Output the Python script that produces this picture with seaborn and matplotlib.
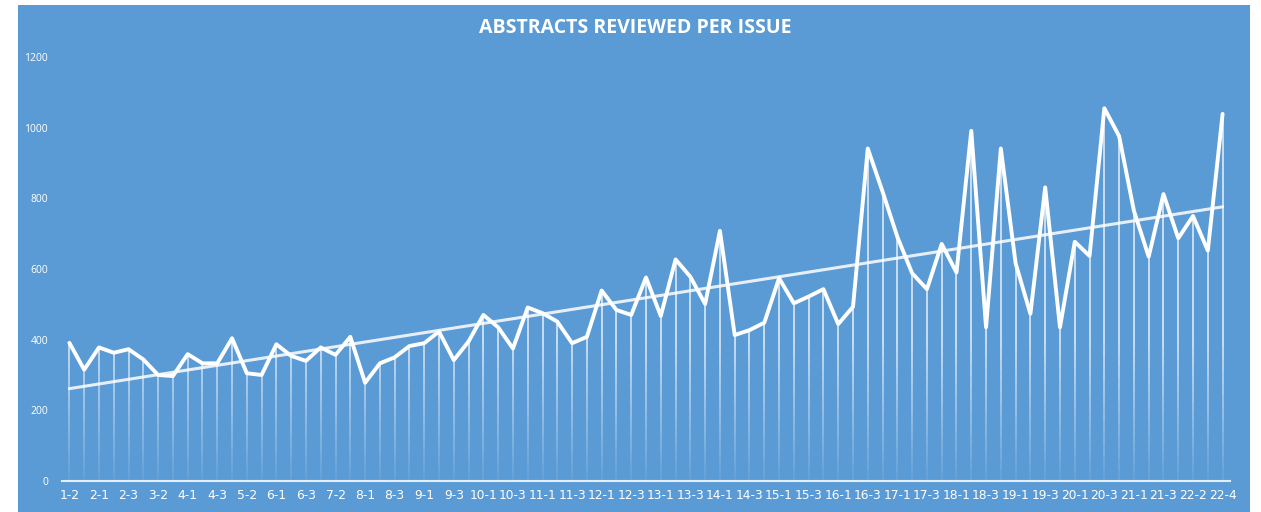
import numpy as np
import pandas as pd
import matplotlib
matplotlib.use("Agg")
import matplotlib.pyplot as plt
import seaborn as sns
from matplotlib.collections import LineCollection
from matplotlib.patches import Rectangle

# ---- data ----
issues = ["1-2", "1-3",
          "2-1", "2-2", "2-3",
          "3-1", "3-2", "3-3",
          "4-1", "4-2", "4-3",
          "5-1", "5-2", "5-3",
          "6-1", "6-2", "6-3",
          "7-1", "7-2", "7-3",
          "8-1", "8-2", "8-3", "8-4",
          "9-1", "9-2", "9-3", "9-4",
          "10-1", "10-2", "10-3", "10-4",
          "11-1", "11-2", "11-3", "11-4",
          "12-1", "12-2", "12-3", "12-4",
          "13-1", "13-2", "13-3", "13-4",
          "14-1", "14-2", "14-3", "14-4",
          "15-1", "15-2", "15-3", "15-4",
          "16-1", "16-2", "16-3", "16-4",
          "17-1", "17-2", "17-3", "17-4",
          "18-1", "18-2", "18-3", "18-4",
          "19-1", "19-2", "19-3", "19-4",
          "20-1", "20-2", "20-3", "20-4",
          "21-1", "21-2", "21-3",
          "22-1", "22-2", "22-3", "22-4"]

abstracts = [391, 315, 378, 363, 373, 344, 300, 297, 359, 333,
             333, 404, 305, 300, 387, 354, 340, 378, 357, 408,
             278, 333, 350, 382, 390, 423, 342, 395, 470, 435,
             375, 491, 475, 451, 390, 408, 539, 484, 470, 576,
             467, 627, 578, 501, 708, 413, 427, 448, 574, 503,
             522, 543, 444, 493, 941, 819, 691, 588, 543, 671,
             590, 991, 435, 941, 616, 473, 831, 435, 677, 637,
             1055, 976, 765, 635, 812, 687, 750, 652, 1039]

yticks = [0, 200, 400, 600, 800, 1000, 1200]
title = "ABSTRACTS REVIEWED PER ISSUE"

df = pd.DataFrame({"pos": np.arange(len(issues)), "issue": issues, "count": abstracts})

# ---- style ----
BLUE = "#5b9bd5"
sns.set_theme(style="white")
plt.rcParams["font.family"] = ["Open Sans", "DejaVu Sans"]

fig = plt.figure(figsize=(12.61, 5.12), dpi=100, facecolor="white")
bg = Rectangle((18 / 1261, 0), (1250 - 18) / 1261, (512 - 5) / 512,
               transform=fig.transFigure, facecolor=BLUE, edgecolor="none", zorder=-10)
fig.add_artist(bg)
ax = fig.add_axes([62 / 1261, (512 - 481) / 512, (1230 - 62) / 1261, (481 - 57) / 512])
ax.set_facecolor("none")
ax.set_zorder(5)

# drop lines with fade toward the bottom
segs, cols = [], []
for x, v in zip(df["pos"], df["count"]):
    hs = np.linspace(0, v, 31)
    for a, b in zip(hs[:-1], hs[1:]):
        segs.append([(x, a), (x, b)])
        mid = (a + b) / 2
        alpha = 0.06 + 0.72 * min(1.0, mid / 400.0)
        cols.append((1, 1, 1, alpha))
ax.add_collection(LineCollection(segs, colors=cols, linewidths=1.2, zorder=2))

# trend line
coef = np.polyfit(df["pos"], df["count"], 1)
trend = np.polyval(coef, df["pos"])
ax.plot(df["pos"], trend, color=(1, 1, 1, 0.85), lw=2.2, zorder=3, solid_capstyle="round")

# main line
sns.lineplot(data=df, x="pos", y="count", ax=ax, color="white", lw=2.8, zorder=4)

ax.set_xlim(-0.5, len(issues) - 0.5)
ax.set_ylim(0, 1200)
ax.set_xticks(df["pos"][::2])
ax.set_xticklabels(df["issue"][::2], color="white", fontsize=8.8,
                   family=["DejaVu Sans"])
ax.set_yticks(yticks)
ax.set_yticklabels([str(t) for t in yticks], color="white", fontsize=7.5)
ax.tick_params(axis="both", length=0)
ax.tick_params(axis="x", pad=6)
ax.tick_params(axis="y", pad=10)
ax.set_xlabel("")
ax.set_ylabel("")
for s in ["top", "right", "left"]:
    ax.spines[s].set_visible(False)
ax.spines["bottom"].set_color((1, 1, 1, 0.85))
ax.spines["bottom"].set_linewidth(1.5)
ax.grid(False)

fig.text(635 / 1261, 1 - 28 / 512, title, ha="center", va="center",
         color="white", fontsize=14, fontweight="bold")

fig.savefig("out.png", dpi=100, facecolor=fig.get_facecolor())
